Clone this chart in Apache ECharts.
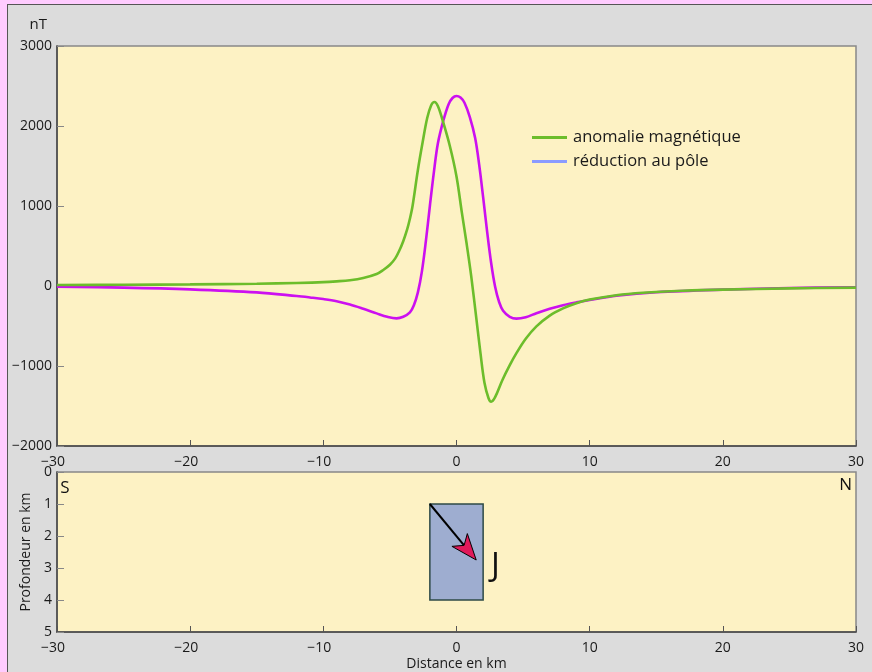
<!DOCTYPE html>
<html>
<head>
<meta charset="utf-8">
<script src="https://cdn.jsdelivr.net/npm/echarts@6/dist/echarts.min.js"></script>
<style>
  html, body { margin: 0; padding: 0; background: #ffccff; width: 872px; height: 672px; overflow: hidden; }
  #bg { position: absolute; left: 7px; top: 4px; width: 865px; height: 668px; background: #dcdcdc; border-left: 1px solid #555; border-top: 1px solid #555; }
  #chart { position: absolute; left: 0; top: 0; width: 872px; height: 672px; }
</style>
</head>
<body>
<div id="bg"></div>
<div id="chart"></div>
<script>
// ---- data ----
const anomalyX = [-30,-25,-20,-15,-12,-10,-9,-8,-7,-6,-5.5,-5,-4.6,-4.3,-4,-3.7,-3.5,-3.3,-2.9,-2.55,-2.2,-1.9,-1.65,-1.4,-1.05,-0.5,0,0.4,0.75,1.1,1.5,1.8,2.1,2.4,2.6,2.9,3.45,4,4.5,5.2,6,7,8,9,10,12,14,17,20,25,30];
const anomalyY = [12,15,20,28,38,48,58,72,100,150,200,265,345,440,560,710,840,1000,1450,1790,2100,2260,2300,2250,2075,1750,1370,920,540,130,-420,-840,-1210,-1400,-1446,-1390,-1175,-990,-840,-660,-505,-370,-280,-215,-170,-115,-85,-60,-45,-30,-20];
const rtpX = [-30,-25,-20,-15,-12,-11,-10,-9,-8,-7,-6,-5.2,-4.5,-4,-3.5,-3.2,-2.9,-2.6,-2.3,-2,-1.7,-1.4,-1,-0.6,-0.3,0,0.3,0.6,1,1.4,1.7,2,2.3,2.6,2.9,3.2,3.5,4,4.5,5.2,6,7,8,9,10,12,15,20,25,30];
const rtpY = [-8,-20,-42,-80,-125,-143,-163,-190,-232,-285,-342,-385,-405,-385,-330,-240,-80,180,560,1000,1420,1780,2060,2270,2350,2375,2355,2290,2110,1850,1520,1110,680,290,-10,-200,-310,-385,-408,-390,-340,-285,-240,-205,-175,-122,-78,-45,-25,-15];
const seriesNames = ['anomalie magnétique', 'réduction au pôle'];
// body (prism) : [xLeft, topDepth, xRight, bottomDepth]
const prism = [[-2, 1, 2, 4]];
// magnetization vector J : [x0, depth0, x1, depth1]
const magVector = [[-2, 1, 1.48, 2.75]];
const vectorLabel = [[2.6, 2.95, 'J']];
const cornerLabels = [[-29.75, 0.5, 'S', 'left'], [29.7, 0.42, 'N', 'right']];
const distTicks = { min: -30, max: 30, interval: 10 };
const fieldTicks = { min: -2000, max: 3000, interval: 1000 };
const depthTicks = { min: 0, max: 5, interval: 1 };

const FONT = 'Open Sans';
const TXT = '#1a1a1a';
const minus = v => (v < 0 ? '\u2212' + Math.abs(v) : String(v));
const xLabelFmt = v => (v < 0 ? '\u2212' + Math.abs(v) + '{h|\u2212}' : String(v));

const chart = echarts.init(document.getElementById('chart'), null, { renderer: 'canvas' });

const xAxisBase = (gridIndex, extra) => Object.assign({
  type: 'value', gridIndex,
  min: distTicks.min, max: distTicks.max, interval: distTicks.interval,
  axisLine: { show: true, onZero: false, lineStyle: { color: '#444', width: 1.5 } },
  axisTick: { show: true, inside: true, length: 6, lineStyle: { color: '#555' } },
  axisLabel: { formatter: xLabelFmt, color: TXT, fontFamily: FONT, fontSize: 14, margin: 9,
    rich: { h: { color: 'transparent', fontFamily: FONT, fontSize: 14 } } },
  splitLine: { show: false }
}, extra || {});

const gridBase = { left: 57, right: 16, show: true, backgroundColor: '#fdf2c4', borderColor: '#888', borderWidth: 1.5,
  containLabel: false, outerBoundsMode: 'none' };

const option = {
  animation: false,
  backgroundColor: 'transparent',
  grid: [
    Object.assign({ top: 46, height: 400 }, gridBase),
    Object.assign({ top: 472, height: 160 }, gridBase)
  ],
  legend: {
    orient: 'vertical', left: 527, top: 124,
    itemWidth: 35, itemHeight: 3, itemGap: 7,
    selectedMode: false,
    textStyle: { color: TXT, fontFamily: FONT, fontSize: 16.5, lineHeight: 16, padding: [0, 0, 0, 1] },
    data: [
      { name: seriesNames[0], icon: 'rect', itemStyle: { color: '#6cbd2b' } },
      { name: seriesNames[1], icon: 'rect', itemStyle: { color: '#8a9bff' } }
    ]
  },
  xAxis: [
    xAxisBase(0),
    xAxisBase(1, {
      name: 'Distance en km', nameLocation: 'middle', nameGap: 25,
      nameTextStyle: { color: TXT, fontFamily: FONT, fontSize: 14 }
    })
  ],
  yAxis: [
    {
      type: 'value', gridIndex: 0,
      min: fieldTicks.min, max: fieldTicks.max, interval: fieldTicks.interval,
      name: 'nT', nameLocation: 'end', nameGap: 14,
      nameTextStyle: { color: TXT, fontFamily: FONT, fontSize: 15, align: 'right', padding: [0, 10, 0, 0] },
      axisLine: { show: true, onZero: false, lineStyle: { color: '#444', width: 1.5 } },
      axisTick: { show: true, inside: true, length: 7, lineStyle: { color: '#888' } },
      axisLabel: { formatter: minus, color: TXT, fontFamily: FONT, fontSize: 14, margin: 5 },
      splitLine: { show: false }
    },
    {
      type: 'value', gridIndex: 1, inverse: true,
      min: depthTicks.min, max: depthTicks.max, interval: depthTicks.interval,
      name: 'Profondeur en km', nameLocation: 'middle', nameGap: 19, nameRotate: 90,
      nameTextStyle: { color: TXT, fontFamily: FONT, fontSize: 14 },
      axisLine: { show: true, onZero: false, lineStyle: { color: '#444', width: 1.5 } },
      axisTick: { show: true, inside: true, length: 7, lineStyle: { color: '#888' } },
      axisLabel: { color: TXT, fontFamily: FONT, fontSize: 14, margin: 5 },
      splitLine: { show: false }
    }
  ],
  series: [
    {
      name: seriesNames[0], type: 'line', xAxisIndex: 0, yAxisIndex: 0,
      data: anomalyX.map((x, i) => [x, anomalyY[i]]),
      smooth: 0.35, symbol: 'none', z: 3,
      lineStyle: { color: '#6cbd2b', width: 2.6 }, itemStyle: { color: '#6cbd2b' }
    },
    {
      name: seriesNames[1], type: 'line', xAxisIndex: 0, yAxisIndex: 0,
      data: rtpX.map((x, i) => [x, rtpY[i]]),
      smooth: 0.35, symbol: 'none', z: 2,
      lineStyle: { color: '#cc10f0', width: 2.6 }, itemStyle: { color: '#cc10f0' }
    },
    {
      type: 'custom', xAxisIndex: 1, yAxisIndex: 1, data: prism, silent: true,
      renderItem: (params, api) => {
        const p1 = api.coord([api.value(0), api.value(1)]);
        const p2 = api.coord([api.value(2), api.value(3)]);
        return { type: 'rect', shape: { x: p1[0], y: p1[1], width: p2[0] - p1[0], height: p2[1] - p1[1] },
          style: { fill: '#9eadd0', stroke: '#2e4a46', lineWidth: 1.5 } };
      }
    },
    {
      type: 'custom', xAxisIndex: 1, yAxisIndex: 1, data: magVector, silent: true, z: 5,
      renderItem: (params, api) => {
        const p0 = api.coord([api.value(0), api.value(1)]);
        const p1 = api.coord([api.value(2), api.value(3)]);
        const dx = p1[0] - p0[0], dy = p1[1] - p0[1];
        const L = Math.sqrt(dx * dx + dy * dy);
        const ux = dx / L, uy = dy / L, nx = -uy, ny = ux;
        const head = 26, half = 10, notch = 19;
        const pt = (a, b) => [p1[0] - ux * a + nx * b, p1[1] - uy * a + ny * b];
        return { type: 'group', children: [
          { type: 'line', shape: { x1: p0[0], y1: p0[1], x2: pt(notch, 0)[0], y2: pt(notch, 0)[1] },
            style: { stroke: '#000', lineWidth: 2 } },
          { type: 'polygon', shape: { points: [p1, pt(head, half), pt(notch, 0), pt(head, -half)] },
            style: { fill: '#e0195a', stroke: '#000', lineWidth: 1 } }
        ] };
      }
    },
    {
      type: 'custom', xAxisIndex: 1, yAxisIndex: 1, data: vectorLabel.concat(cornerLabels), silent: true, z: 6,
      renderItem: (params, api) => {
        const d = params.dataIndex < vectorLabel.length ? vectorLabel[params.dataIndex] : cornerLabels[params.dataIndex - vectorLabel.length];
        const p = api.coord([d[0], d[1]]);
        const big = d[2] === 'J';
        return { type: 'text', x: p[0], y: p[1],
          style: { text: d[2], fill: '#111', font: (big ? '500 33px ' : '17px ') + FONT,
            align: d[3] || 'left', verticalAlign: 'middle' } };
      }
    }
  ]
};
chart.setOption(option);
</script>
</body>
</html>
